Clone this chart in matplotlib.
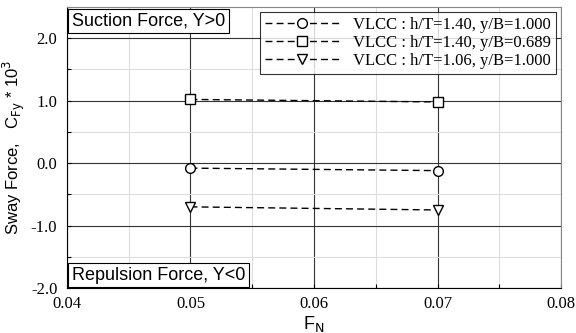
import matplotlib
matplotlib.use("Agg")
import matplotlib.pyplot as plt
from matplotlib.ticker import MultipleLocator, FormatStrFormatter

# data
froude = [0.05, 0.07]
cfy_h140_y1000 = [-0.08, -0.12]
cfy_h140_y0689 = [1.02, 0.98]
cfy_h106_y1000 = [-0.70, -0.75]
labels = [
    "VLCC : h/T=1.40, y/B=1.000",
    "VLCC : h/T=1.40, y/B=0.689",
    "VLCC : h/T=1.06, y/B=1.000",
]

serif = "Liberation Serif"
sans = "Liberation Sans"

f = plt.figure(figsize=(5.76, 3.33), dpi=100)
ax = f.add_axes([0.1163, 0.135, 0.974 - 0.1163, 0.979 - 0.135])

ax.set_xlim(0.04, 0.08)
ax.set_ylim(-2.0, 2.5)
ax.xaxis.set_major_locator(MultipleLocator(0.01))
ax.xaxis.set_minor_locator(MultipleLocator(0.005))
ax.yaxis.set_major_locator(MultipleLocator(1.0))
ax.yaxis.set_minor_locator(MultipleLocator(0.5))
ax.xaxis.set_major_formatter(FormatStrFormatter("%.2f"))
ax.yaxis.set_major_formatter(FormatStrFormatter("%.1f"))
ax.set_yticks([-2.0, -1.0, 0.0, 1.0, 2.0])

ax.grid(which="minor", color="#dddddd", lw=0.8)
ax.grid(which="major", color="#333333", lw=0.8)
ax.set_axisbelow(True)
ax.tick_params(which="both", direction="in", length=3, width=0.8)
ax.tick_params(axis="x", labelsize=12, pad=6)
ax.tick_params(axis="y", labelsize=12, pad=7)
for lab in ax.get_xticklabels() + ax.get_yticklabels():
    lab.set_family(serif)
for side in ["top", "right"]:
    ax.spines[side].set_color("#888888")

line_kw = dict(color="black", ls=(0, (5, 3)), lw=1.0, mfc="white", mec="black",
               mew=1.0, ms=7)
ax.plot(froude, cfy_h140_y1000, marker="o", label=labels[0], **line_kw)
ax.plot(froude, cfy_h140_y0689, marker="s", label=labels[1], **line_kw)
ax.plot(froude, cfy_h106_y1000, marker="v", label=labels[2], **line_kw)

leg = ax.legend(loc="upper right", prop={"family": serif, "size": 12},
                frameon=True, fancybox=False, edgecolor="black",
                handlelength=4.5, handletextpad=0.8, borderaxespad=0.3,
                labelspacing=0.12, borderpad=0.3)
leg.get_frame().set_linewidth(0.8)

box = dict(boxstyle="square,pad=0.2", fc="white", ec="black", lw=0.8)
ax.text(0.01, 0.98, "Suction Force, Y>0", transform=ax.transAxes,
        ha="left", va="top", family=sans, fontsize=13, bbox=box)
ax.text(0.01, 0.015, "Repulsion Force, Y<0", transform=ax.transAxes,
        ha="left", va="bottom", family=sans, fontsize=13, bbox=box)

ax.set_xlabel(r"F$_{\mathrm{N}}$", family=sans, fontsize=13, labelpad=1)
ax.set_ylabel(r"Sway Force,   C$_{\mathrm{Fy}}$ * 10$^{3}$", family=sans,
              fontsize=12, labelpad=3)
plt.rcParams["mathtext.fontset"] = "custom"

f.savefig("out.png", dpi=100)
